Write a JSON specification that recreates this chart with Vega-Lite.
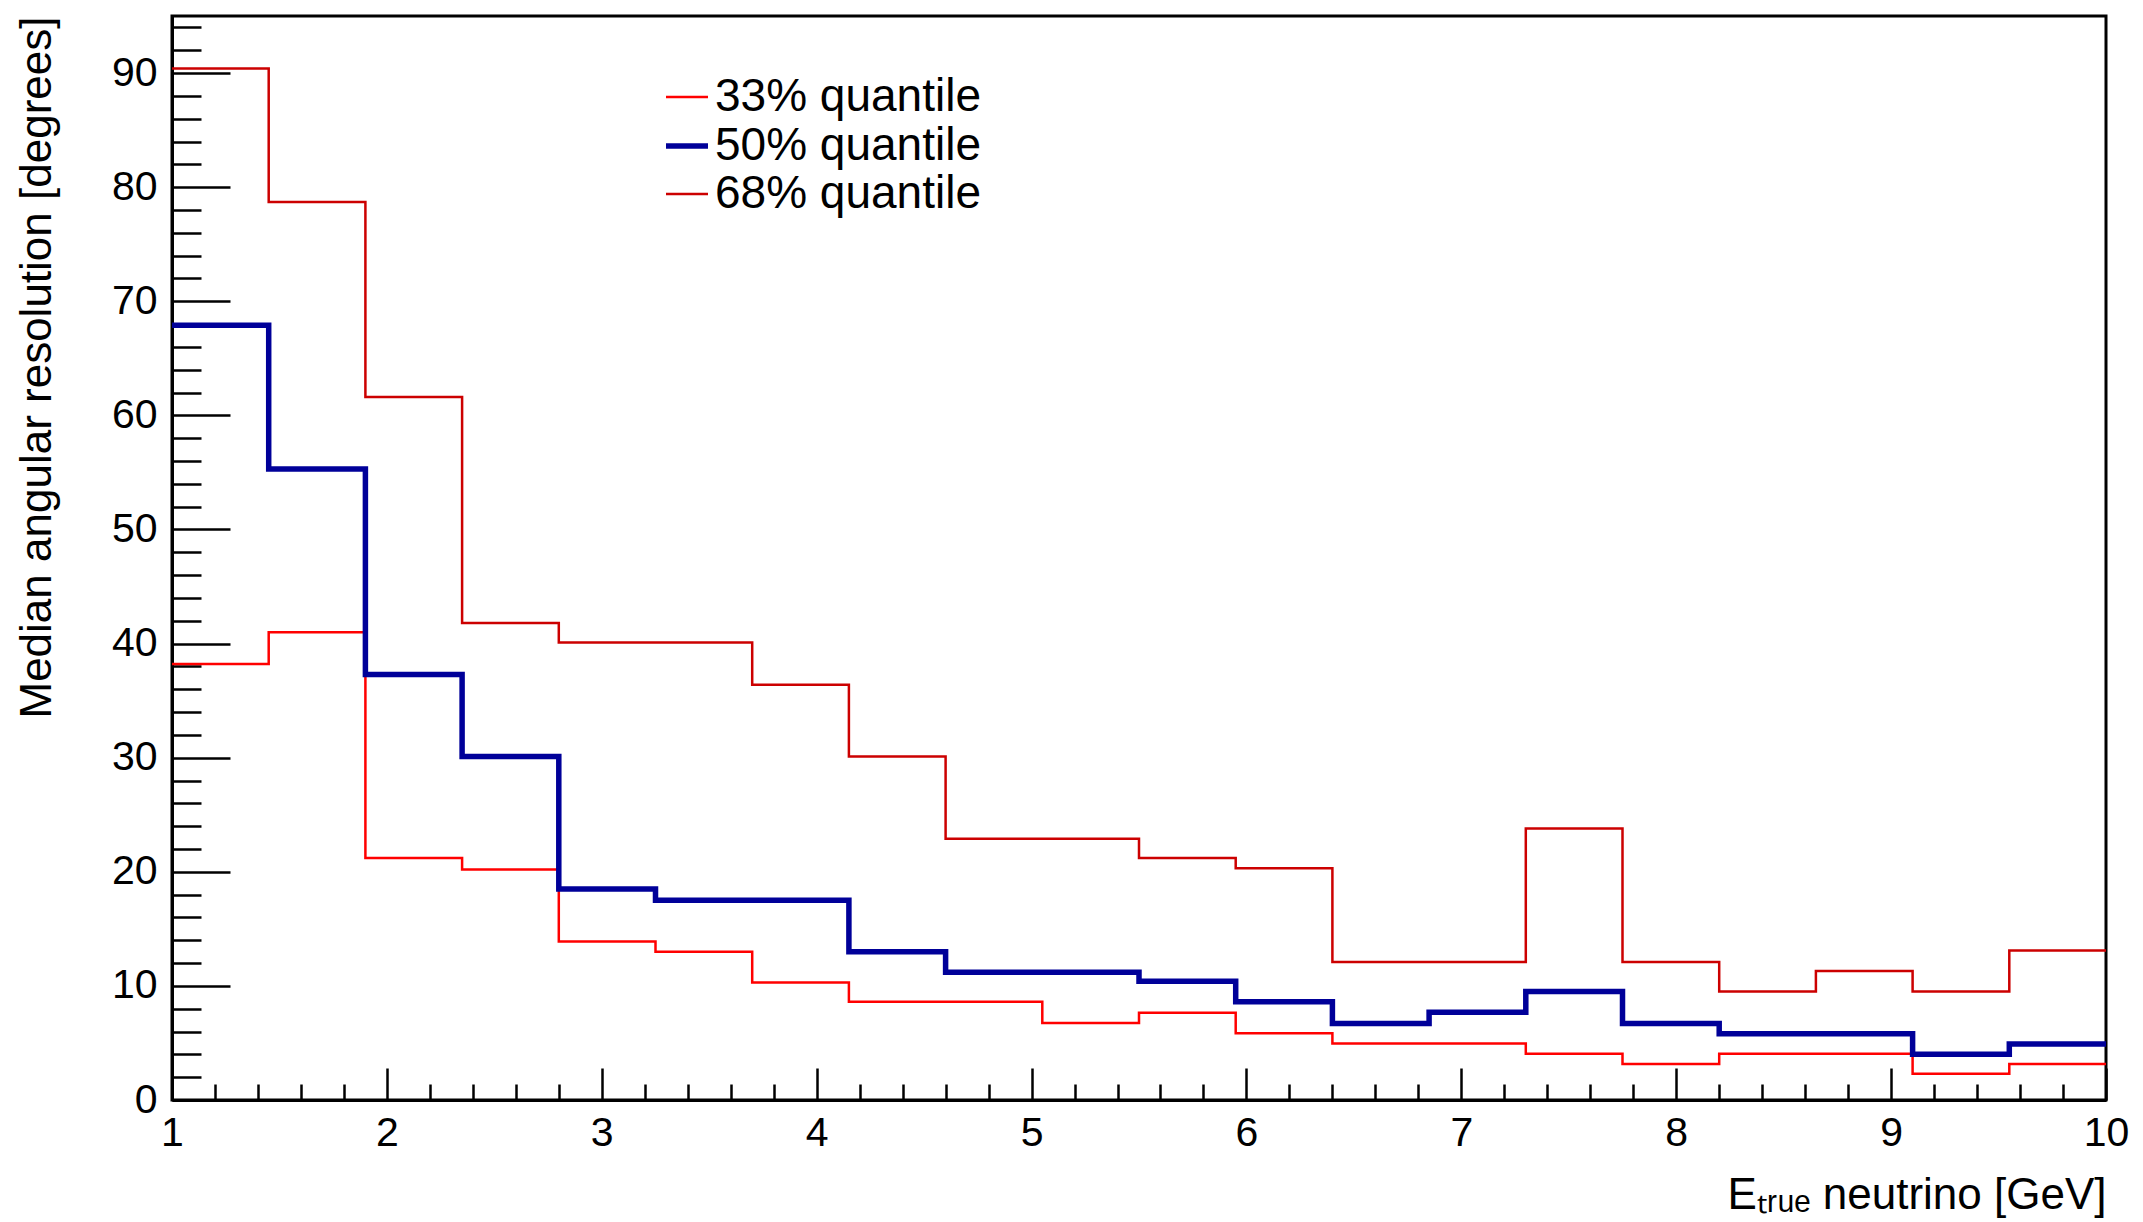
{
  "$schema": "https://vega.github.io/schema/vega-lite/v6.json",
  "width": 1934,
  "height": 1084,
  "autosize": {"type": "none"},
  "padding": {"left": 172, "top": 16, "right": 37, "bottom": 122},
  "background": "white",
  "config": {
    "font": "Liberation Sans",
    "view": {"stroke": "black", "strokeWidth": 3},
    "axis": {"grid": false, "domainColor": "black", "tickColor": "black", "labelColor": "black", "titleColor": "black", "titleFontWeight": "normal", "labelFont": "Liberation Sans", "titleFont": "Liberation Sans"},
    "legend": {"labelFont": "Liberation Sans"}
  },
  "data": {"values": [
    {"E": 1.0, "v": 38.2, "q": "33% quantile"}, {"E": 1.45, "v": 41.0, "q": "33% quantile"}, {"E": 1.9, "v": 21.2, "q": "33% quantile"}, {"E": 2.35, "v": 20.2, "q": "33% quantile"}, {"E": 2.8, "v": 13.9, "q": "33% quantile"}, {"E": 3.25, "v": 13.0, "q": "33% quantile"}, {"E": 3.7, "v": 10.3, "q": "33% quantile"}, {"E": 4.15, "v": 8.6, "q": "33% quantile"}, {"E": 4.6, "v": 8.6, "q": "33% quantile"}, {"E": 5.05, "v": 6.75, "q": "33% quantile"}, {"E": 5.5, "v": 7.65, "q": "33% quantile"}, {"E": 5.95, "v": 5.85, "q": "33% quantile"}, {"E": 6.4, "v": 4.95, "q": "33% quantile"}, {"E": 6.85, "v": 4.95, "q": "33% quantile"}, {"E": 7.3, "v": 4.05, "q": "33% quantile"}, {"E": 7.75, "v": 3.15, "q": "33% quantile"}, {"E": 8.2, "v": 4.05, "q": "33% quantile"}, {"E": 8.65, "v": 4.05, "q": "33% quantile"}, {"E": 9.1, "v": 2.3, "q": "33% quantile"}, {"E": 9.55, "v": 3.15, "q": "33% quantile"}, {"E": 10.0, "v": 3.15, "q": "33% quantile"},
    {"E": 1.0, "v": 67.9, "q": "50% quantile"}, {"E": 1.45, "v": 55.3, "q": "50% quantile"}, {"E": 1.9, "v": 37.3, "q": "50% quantile"}, {"E": 2.35, "v": 30.1, "q": "50% quantile"}, {"E": 2.8, "v": 18.5, "q": "50% quantile"}, {"E": 3.25, "v": 17.5, "q": "50% quantile"}, {"E": 3.7, "v": 17.5, "q": "50% quantile"}, {"E": 4.15, "v": 13.0, "q": "50% quantile"}, {"E": 4.6, "v": 11.2, "q": "50% quantile"}, {"E": 5.05, "v": 11.2, "q": "50% quantile"}, {"E": 5.5, "v": 10.4, "q": "50% quantile"}, {"E": 5.95, "v": 8.6, "q": "50% quantile"}, {"E": 6.4, "v": 6.7, "q": "50% quantile"}, {"E": 6.85, "v": 7.7, "q": "50% quantile"}, {"E": 7.3, "v": 9.5, "q": "50% quantile"}, {"E": 7.75, "v": 6.7, "q": "50% quantile"}, {"E": 8.2, "v": 5.8, "q": "50% quantile"}, {"E": 8.65, "v": 5.8, "q": "50% quantile"}, {"E": 9.1, "v": 4.0, "q": "50% quantile"}, {"E": 9.55, "v": 4.9, "q": "50% quantile"}, {"E": 10.0, "v": 4.9, "q": "50% quantile"},
    {"E": 1.0, "v": 90.4, "q": "68% quantile"}, {"E": 1.45, "v": 78.7, "q": "68% quantile"}, {"E": 1.9, "v": 61.6, "q": "68% quantile"}, {"E": 2.35, "v": 41.8, "q": "68% quantile"}, {"E": 2.8, "v": 40.1, "q": "68% quantile"}, {"E": 3.25, "v": 40.1, "q": "68% quantile"}, {"E": 3.7, "v": 36.4, "q": "68% quantile"}, {"E": 4.15, "v": 30.1, "q": "68% quantile"}, {"E": 4.6, "v": 22.9, "q": "68% quantile"}, {"E": 5.05, "v": 22.9, "q": "68% quantile"}, {"E": 5.5, "v": 21.2, "q": "68% quantile"}, {"E": 5.95, "v": 20.3, "q": "68% quantile"}, {"E": 6.4, "v": 12.1, "q": "68% quantile"}, {"E": 6.85, "v": 12.1, "q": "68% quantile"}, {"E": 7.3, "v": 23.8, "q": "68% quantile"}, {"E": 7.75, "v": 12.1, "q": "68% quantile"}, {"E": 8.2, "v": 9.5, "q": "68% quantile"}, {"E": 8.65, "v": 11.3, "q": "68% quantile"}, {"E": 9.1, "v": 9.5, "q": "68% quantile"}, {"E": 9.55, "v": 13.1, "q": "68% quantile"}, {"E": 10.0, "v": 13.1, "q": "68% quantile"}
  ]},
  "layer": [
    {
      "mark": {"type": "line", "interpolate": "step-after", "strokeCap": "butt", "strokeJoin": "miter"},
      "encoding": {
        "x": {"field": "E", "type": "quantitative", "scale": {"domain": [1, 10], "nice": false, "zero": false},
          "axis": {"orient": "bottom", "values": [1, 2, 3, 4, 5, 6, 7, 8, 9, 10], "tickSize": -32, "tickWidth": 2.5, "domainWidth": 3, "labelPadding": 45, "labelFontSize": 41, "labelOverlap": false, "labelFlush": false, "labelBound": false,
            "title": "Eₜᵣᵤₑ neutrino [GeV]", "titleFontSize": 44, "titleAnchor": null, "titleAlign": "right", "titleBaseline": "alphabetic", "titleX": 1934, "titleY": 108}},
        "y": {"field": "v", "type": "quantitative", "scale": {"domain": [0, 95], "nice": false, "zero": true},
          "axis": {"orient": "left", "values": [0, 10, 20, 30, 40, 50, 60, 70, 80, 90], "tickSize": -58, "tickWidth": 2.5, "domainWidth": 3, "labelPadding": 73, "labelFontSize": 41, "labelOverlap": false, "labelFlush": false, "labelBound": false, "labelBaseline": "middle",
            "title": "Median angular resolution [degrees]", "titleFontSize": 44, "titleAngle": 270, "titleAnchor": null, "titleAlign": "right", "titleBaseline": "alphabetic", "titleX": -122, "titleY": 0}},
        "color": {"field": "q", "type": "nominal", "scale": {"domain": ["33% quantile", "50% quantile", "68% quantile"], "range": ["#ff0000", "#000099", "#cc0000"]},
          "legend": {"orient": "none", "legendX": 491, "legendY": 58, "title": null, "symbolType": "stroke", "symbolSize": 1764, "labelFontSize": 46, "labelLimit": 0, "labelOffset": 4, "rowPadding": 2, "padding": 0, "labelColor": "black"}},
        "strokeWidth": {"field": "q", "type": "nominal", "scale": {"type": "ordinal", "domain": ["33% quantile", "50% quantile", "68% quantile"], "range": [2.5, 5.5, 2.5]},
          "legend": {"orient": "none", "legendX": 491, "legendY": 58, "title": null, "symbolType": "stroke", "symbolSize": 1764, "labelFontSize": 46, "labelLimit": 0, "labelOffset": 4, "rowPadding": 2, "padding": 0, "labelColor": "black"}}
      }
    },
    {
      "mark": {"type": "point", "opacity": 0},
      "encoding": {
        "x": {"field": "E", "type": "quantitative",
          "axis": {"orient": "bottom", "values": [1.2, 1.4, 1.6, 1.8, 2.2, 2.4, 2.6, 2.8, 3.2, 3.4, 3.6, 3.8, 4.2, 4.4, 4.6, 4.8, 5.2, 5.4, 5.6, 5.8, 6.2, 6.4, 6.6, 6.8, 7.2, 7.4, 7.6, 7.8, 8.2, 8.4, 8.6, 8.8, 9.2, 9.4, 9.6, 9.8], "tickSize": -16, "tickWidth": 2.5, "domain": false, "labels": false, "title": null}},
        "y": {"field": "v", "type": "quantitative",
          "axis": {"orient": "left", "values": [2, 4, 6, 8, 12, 14, 16, 18, 22, 24, 26, 28, 32, 34, 36, 38, 42, 44, 46, 48, 52, 54, 56, 58, 62, 64, 66, 68, 72, 74, 76, 78, 82, 84, 86, 88, 92, 94], "tickSize": -29, "tickWidth": 2.5, "domain": false, "labels": false, "title": null}}
      }
    }
  ],
  "resolve": {"axis": {"x": "independent", "y": "independent"}}
}
